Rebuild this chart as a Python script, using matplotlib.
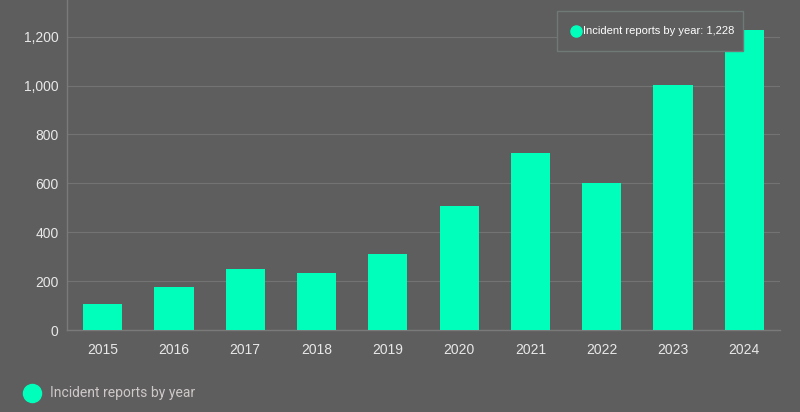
import matplotlib
matplotlib.use("Agg")
import matplotlib.pyplot as plt
from matplotlib.lines import Line2D
from matplotlib.ticker import FuncFormatter

years = ["2015", "2016", "2017", "2018", "2019", "2020", "2021", "2022", "2023", "2024"]
reports = [106, 176, 250, 233, 311, 508, 725, 602, 1003, 1228]
series_name = "Incident reports by year"

BG = "#5e5e5e"
GRID = "#737373"
BAR = "#00ffbb"
TXT = "#e8e8e8"

plt.rcParams["font.family"] = ["Liberation Sans", "DejaVu Sans"]

fig = plt.figure(figsize=(8, 4.12), dpi=100, facecolor=BG)
ax = fig.add_axes([67 / 800, 82 / 412, 713 / 800, 330 / 412])
ax.set_facecolor(BG)

x = range(len(years))
ax.bar(x, reports, width=0.55, color=BAR, zorder=3)

ax.set_xlim(-0.5, len(years) - 0.5)
ax.set_ylim(0, 1350)
ax.set_yticks(range(0, 1201, 200))
ax.yaxis.set_major_formatter(FuncFormatter(lambda v, _: f"{int(v):,}"))
ax.set_xticks(list(x))
ax.set_xticklabels(years)

ax.grid(axis="y", color=GRID, linewidth=0.8, zorder=0)
for side in ("top", "right"):
    ax.spines[side].set_visible(False)
for side in ("left", "bottom"):
    ax.spines[side].set_color("#7a7a7a")
    ax.spines[side].set_linewidth(1)
ax.tick_params(axis="both", colors=TXT, labelsize=10, length=0)
ax.tick_params(axis="x", pad=9)
ax.tick_params(axis="y", pad=6)

# tooltip box
fig.patches.append(plt.Rectangle((557 / 800, 1 - 51 / 412), 186 / 800, 40 / 412,
                                 transform=fig.transFigure, facecolor=BG,
                                 edgecolor="#6f7a78", linewidth=1, zorder=10))
fig.add_artist(Line2D([576 / 800], [1 - 31 / 412], transform=fig.transFigure,
                      marker="o", markersize=8, color=BAR, linestyle="none", zorder=11))
fig.text(583 / 800, 1 - 31 / 412, f"{series_name}: {reports[-1]:,}",
         color="white", fontsize=8, ha="left", va="center", zorder=11)

# legend
fig.add_artist(Line2D([32 / 800], [1 - 393 / 412], transform=fig.transFigure,
                      marker="o", markersize=13, color=BAR, linestyle="none"))
fig.text(50 / 800, 1 - 393 / 412, series_name, color="#cfc8c8", fontsize=10,
         ha="left", va="center", family=["Roboto", "DejaVu Sans"])

fig.savefig("out.png", dpi=100, facecolor=BG)
